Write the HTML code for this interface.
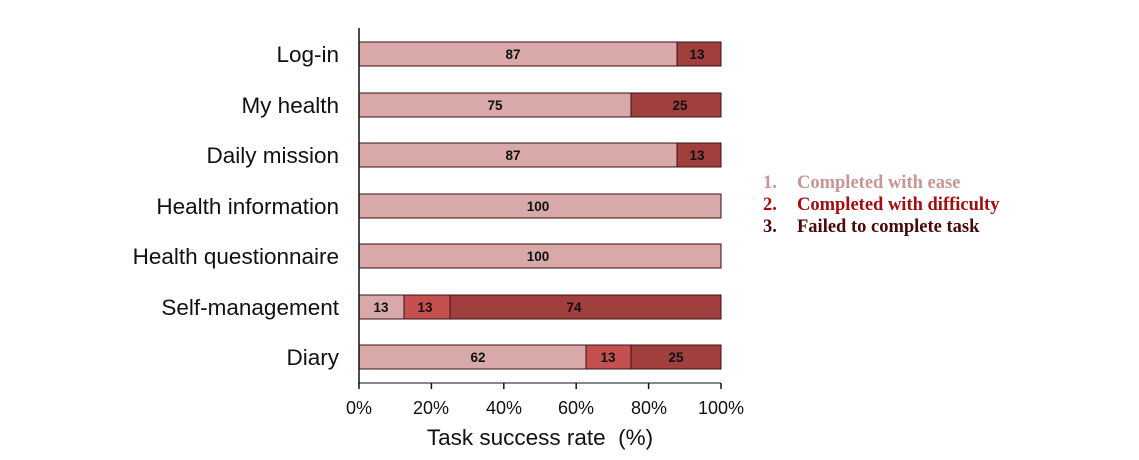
<!DOCTYPE html>
<html><head><meta charset="utf-8"><style>
html,body{margin:0;padding:0;background:#fff;}
svg{display:block;}
.l{font-family:"Liberation Sans",Arial,sans-serif;font-size:22.5px;fill:#111;}
.v{font-family:"Liberation Sans",Arial,sans-serif;font-size:13.5px;font-weight:bold;fill:#111;}
.g{font-family:"Liberation Serif","Times New Roman",serif;font-size:18.5px;font-weight:bold;}
</style></head><body>
<svg width="1139" height="460" xmlns="http://www.w3.org/2000/svg">
<g stroke="#3a1010" stroke-width="1">
<rect x="359" y="42" width="318" height="24" fill="#d8a9a8"/>
<rect x="677" y="42" width="44" height="24" fill="#a13f3f"/>
<rect x="359" y="93" width="272" height="24" fill="#d8a9a8"/>
<rect x="631" y="93" width="90" height="24" fill="#a13f3f"/>
<rect x="359" y="143" width="318" height="24" fill="#d8a9a8"/>
<rect x="677" y="143" width="44" height="24" fill="#a13f3f"/>
<rect x="359" y="194" width="362" height="24" fill="#d8a9a8"/>
<rect x="359" y="244" width="362" height="24" fill="#d8a9a8"/>
<rect x="359" y="295" width="45" height="24" fill="#d8a9a8"/>
<rect x="404" y="295" width="46" height="24" fill="#c4514f"/>
<rect x="450" y="295" width="271" height="24" fill="#a13f3f"/>
<rect x="359" y="345" width="227" height="24" fill="#d8a9a8"/>
<rect x="586" y="345" width="45" height="24" fill="#c4514f"/>
<rect x="631" y="345" width="90" height="24" fill="#a13f3f"/>
</g>
<g stroke="#111" stroke-width="1.5">
<line x1="359" y1="28" x2="359" y2="384"/>
<line x1="359" y1="383" x2="721" y2="383" stroke-width="1"/>
<line x1="359" y1="383" x2="359" y2="389"/>
<line x1="431.4" y1="383" x2="431.4" y2="389"/>
<line x1="503.8" y1="383" x2="503.8" y2="389"/>
<line x1="576.2" y1="383" x2="576.2" y2="389"/>
<line x1="648.6" y1="383" x2="648.6" y2="389"/>
<line x1="721" y1="383" x2="721" y2="389"/>
</g>
<g class="v" text-anchor="middle">
<text x="513" y="59">87</text><text x="697" y="59">13</text>
<text x="495" y="110">75</text><text x="680" y="110">25</text>
<text x="513" y="160">87</text><text x="697" y="160">13</text>
<text x="538" y="211">100</text>
<text x="538" y="261">100</text>
<text x="381" y="312">13</text><text x="425" y="312">13</text><text x="574" y="312">74</text>
<text x="478" y="362">62</text><text x="608" y="362">13</text><text x="676" y="362">25</text>
</g>
<g class="l" text-anchor="end">
<text x="339" y="62">Log-in</text>
<text x="339" y="113">My health</text>
<text x="339" y="163">Daily mission</text>
<text x="339" y="214">Health information</text>
<text x="339" y="264">Health questionnaire</text>
<text x="339" y="315">Self-management</text>
<text x="339" y="365">Diary</text>
</g>
<g class="l" text-anchor="middle" style="font-size:18px">
<text x="359" y="414">0%</text>
<text x="431" y="414">20%</text>
<text x="504" y="414">40%</text>
<text x="576" y="414">60%</text>
<text x="649" y="414">80%</text>
<text x="721" y="414">100%</text>
</g>
<text class="l" x="540" y="445" text-anchor="middle">Task success rate&#160;&#160;(%)</text>
<text class="g" x="763" y="188" fill="#c99494">1.</text><text class="g" x="797" y="188" fill="#c99494">Completed with ease</text>
<text class="g" x="763" y="210" fill="#a00f0f">2.</text><text class="g" x="797" y="210" fill="#a00f0f">Completed with difficulty</text>
<text class="g" x="763" y="232" fill="#4a0808">3.</text><text class="g" x="797" y="232" fill="#4a0808">Failed to complete task</text>
</svg>
</body></html>
